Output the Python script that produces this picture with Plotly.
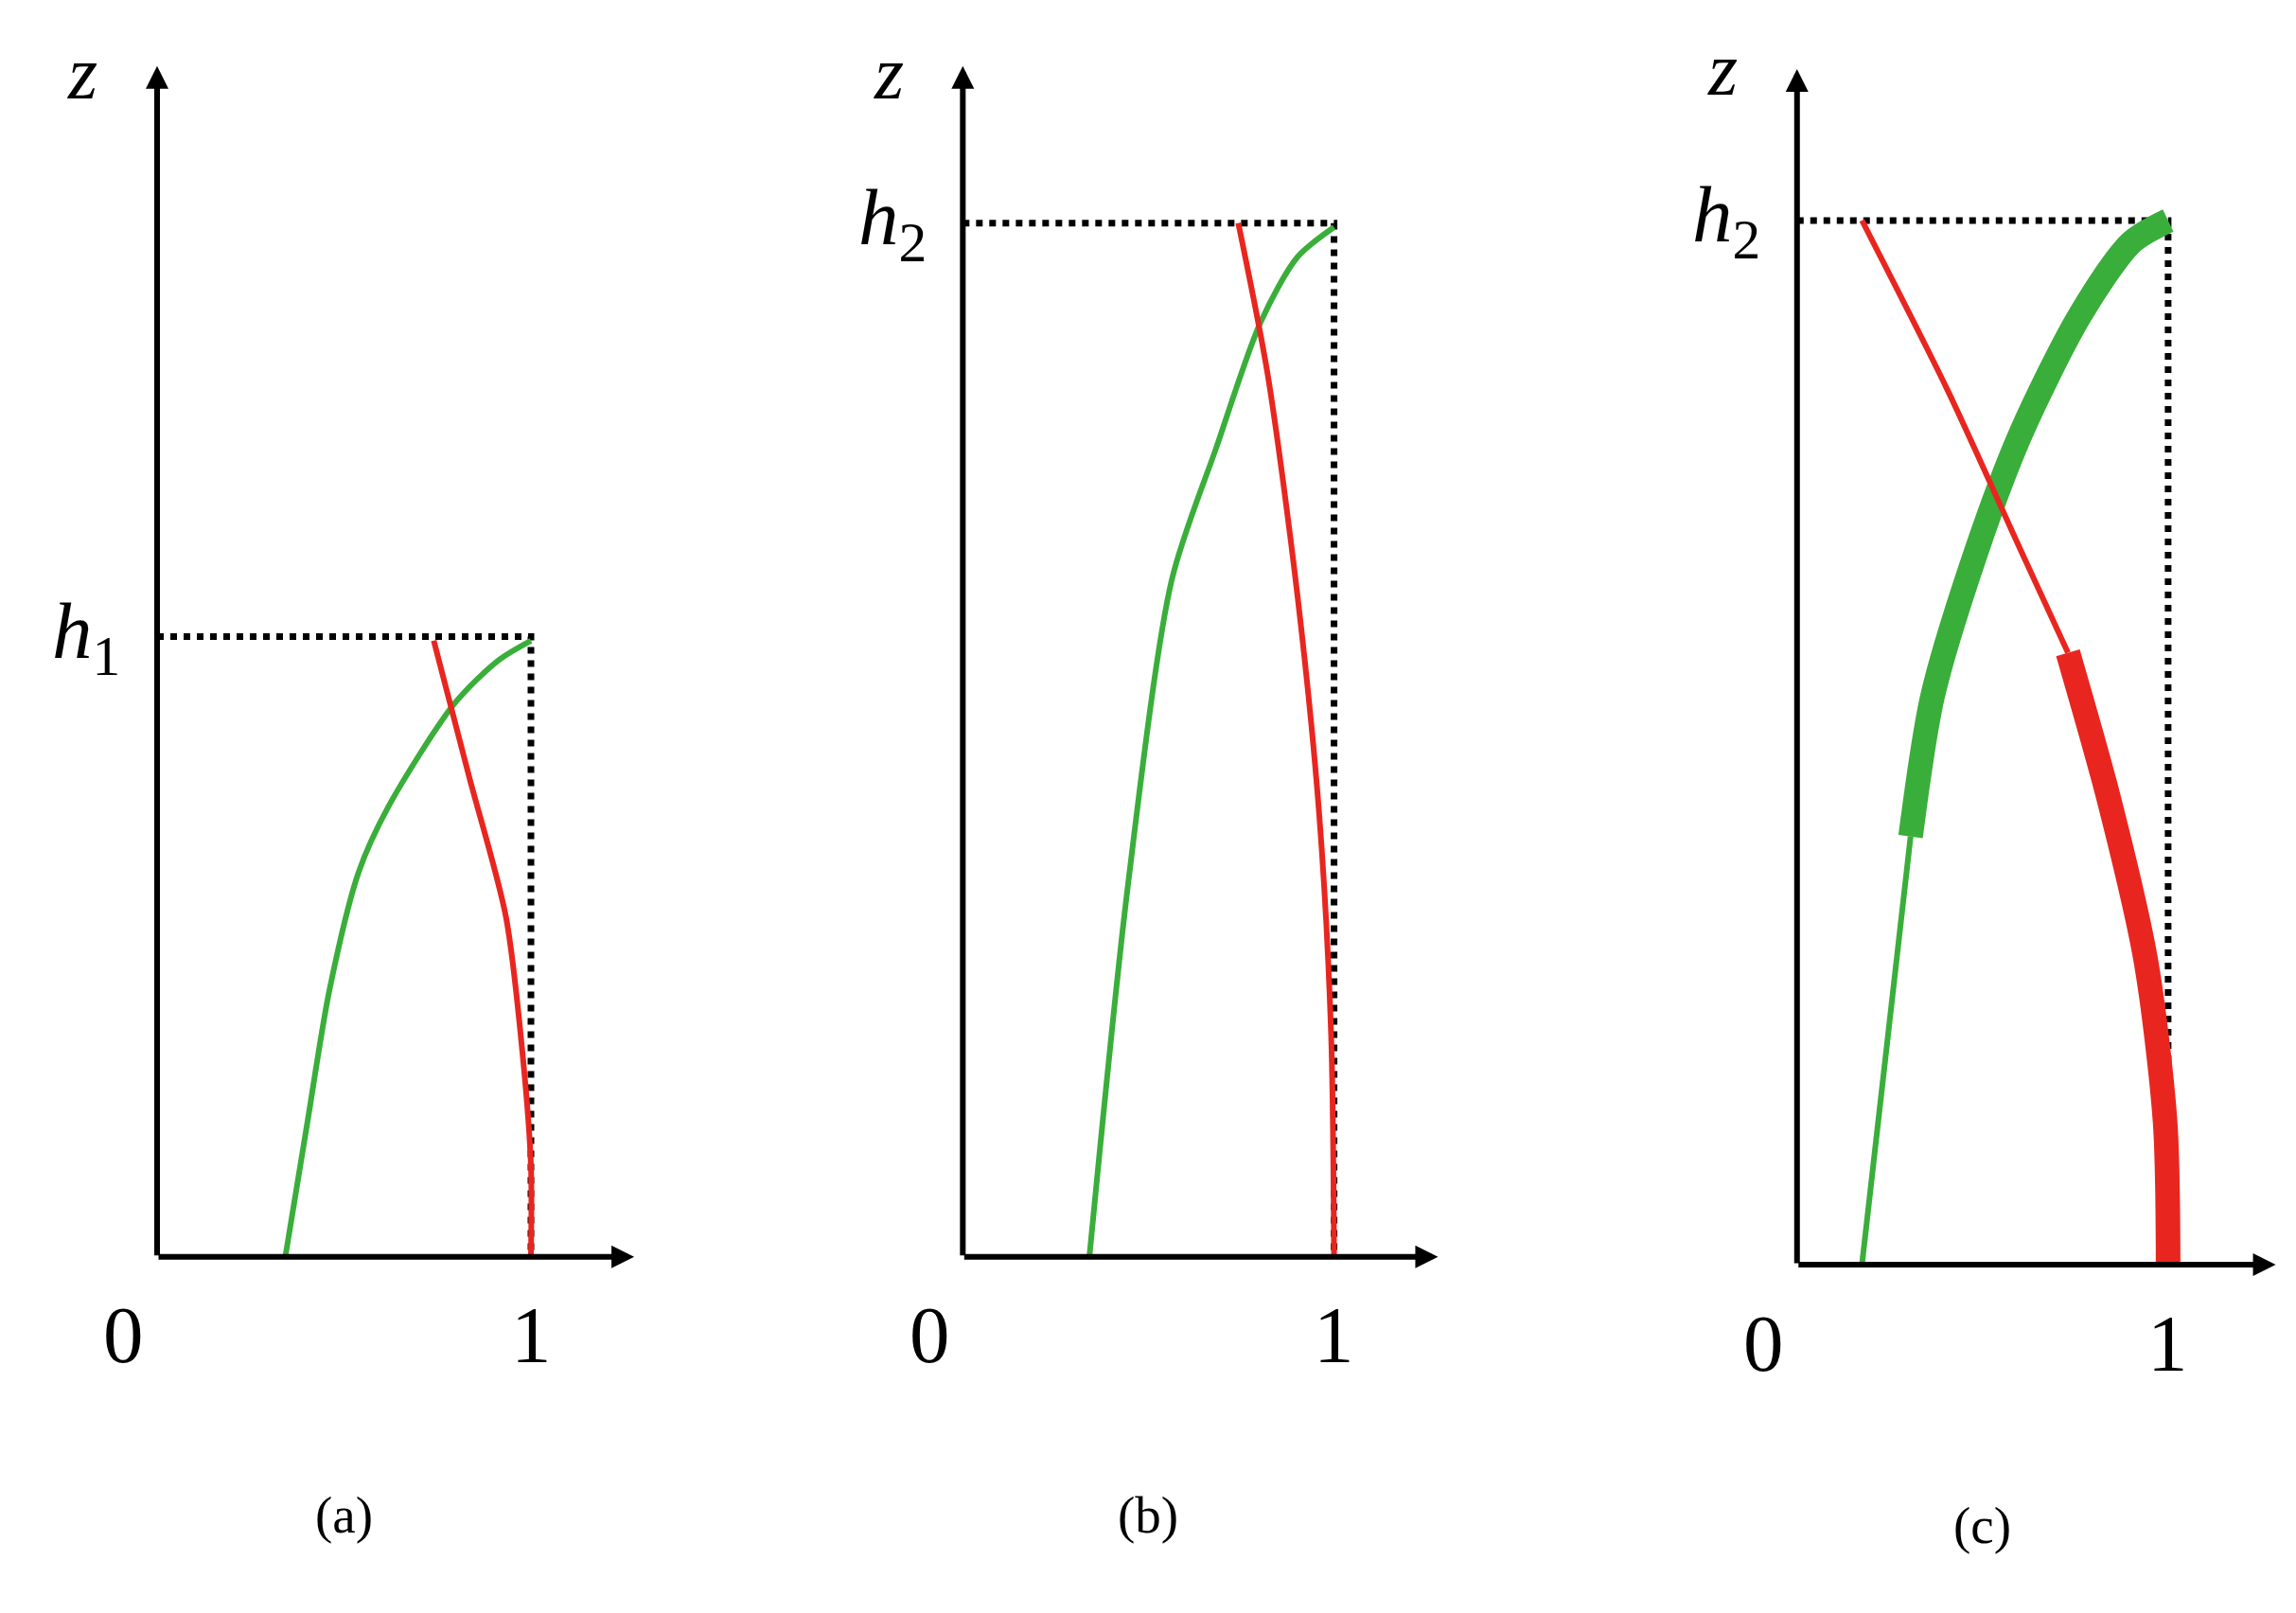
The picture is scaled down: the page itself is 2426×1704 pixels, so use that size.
import plotly.graph_objects as go

# panel (a)
a_green_x = [0.343, 0.402, 0.461, 0.539, 0.618, 0.795, 0.913, 1.0]
a_green_z = [0.0, 0.130, 0.258, 0.372, 0.435, 0.535, 0.577, 0.596]
a_red_x = [0.740, 0.835, 0.933, 0.980, 1.0, 1.0]
a_red_z = [0.596, 0.464, 0.329, 0.187, 0.088, 0.0]
h1 = 0.6
# panel (b)
b_green_x = [0.341, 0.444, 0.563, 0.683, 0.802, 0.901, 1.0]
b_green_z = [0.0, 0.357, 0.655, 0.783, 0.904, 0.967, 0.996]
b_red_x = [0.742, 0.821, 0.901, 0.960, 0.992, 1.0]
b_red_z = [1.0, 0.854, 0.641, 0.428, 0.216, 0.0]
h2 = 1.0
# panel (c)
c_green_thin_x = [0.175, 0.306]
c_green_thin_z = [0.0, 0.410]
c_green_thick_x = [0.306, 0.365, 0.484, 0.603, 0.762, 0.901, 1.0]
c_green_thick_z = [0.410, 0.544, 0.684, 0.796, 0.909, 0.979, 1.0]
c_red_thin_x = [0.175, 0.405, 0.603, 0.730]
c_red_thin_z = [1.0, 0.838, 0.684, 0.586]
c_red_thick_x = [0.730, 0.841, 0.940, 0.992, 1.0]
c_red_thick_z = [0.586, 0.445, 0.291, 0.136, 0.0]

GREEN = "#3aae3a"
RED = "#e8261f"
FONT = "Liberation Serif"

fig = go.Figure()

def line(x, z, color, w, ax, dash=None, shape="spline"):
    fig.add_trace(go.Scatter(x=x, y=z, mode="lines", xaxis="x" + ax, yaxis="y" + ax,
                             line=dict(color=color, width=w, dash=dash, shape=shape, smoothing=0.8),
                             showlegend=False))

panels = [
    ("", [0, 0.3333], [-0.40, 1.647], [-0.352, 1.2085], h1, "<i>h</i><sub>1</sub>", "(a)", 1.276, 1.152,
     [(a_green_x, a_green_z, GREEN, 6), (a_red_x, a_red_z, RED, 6)]),
    ("2", [0.3462, 0.699], [-0.432, 1.75], [-0.352, 1.2085], h2, "<i>h</i><sub>2</sub>", "(b)", 1.28, 1.152,
     [(b_green_x, b_green_z, GREEN, 6), (b_red_x, b_red_z, RED, 6)]),
    ("3", [0.7115, 1.0], [-0.42, 1.365], [-0.341, 1.204], h2, "<i>h</i><sub>2</sub>", "(c)", 1.29, 1.145,
     [(c_green_thin_x, c_green_thin_z, GREEN, 6), (c_green_thick_x, c_green_thick_z, GREEN, 26),
      (c_red_thin_x, c_red_thin_z, RED, 6), (c_red_thick_x, c_red_thick_z, RED, 26)]),
]

layout = dict(width=2426, height=1704, margin=dict(l=0, r=0, t=0, b=0),
              plot_bgcolor="white", paper_bgcolor="white")
annotations = []
for ax, dom, xr, yr, h, hlab, plab, xend, zend, curves in panels:
    xa = "x" + ax
    ya = "y" + ax
    layout["xaxis" + ax] = dict(domain=dom, range=xr, visible=False, anchor=ya)
    layout["yaxis" + ax] = dict(domain=[0, 1], range=yr, visible=False, anchor=xa)
    line([0, 1, 1], [h, h, 0], "black", 7, ax, dash="dot", shape="linear")
    for x, z, c, w in curves:
        line(x, z, c, w, ax)
    for (tx, tz) in [(xend, 0), (0, zend)]:
        annotations.append(dict(x=tx, y=tz, ax=0, ay=0, xref=xa, yref=ya, axref=xa, ayref=ya,
                                showarrow=True, arrowhead=2, arrowsize=0.8, arrowwidth=6,
                                arrowcolor="black", text=""))
    txt = [
        (-0.2, 1.145, "<i>z</i>", 80),
        (-0.19, h + 0.0, hlab, 85),
        (-0.09, -0.075, "0", 85),
        (1.0, -0.075, "1", 85),
        (0.5, -0.25, plab, 55),
    ]
    for x, z, t, s in txt:
        annotations.append(dict(x=x, y=z, xref=xa, yref=ya, text=t, showarrow=False,
                                font=dict(family=FONT, size=s, color="black")))
layout["annotations"] = annotations
fig.update_layout(**layout)
fig.write_html("out.html")
